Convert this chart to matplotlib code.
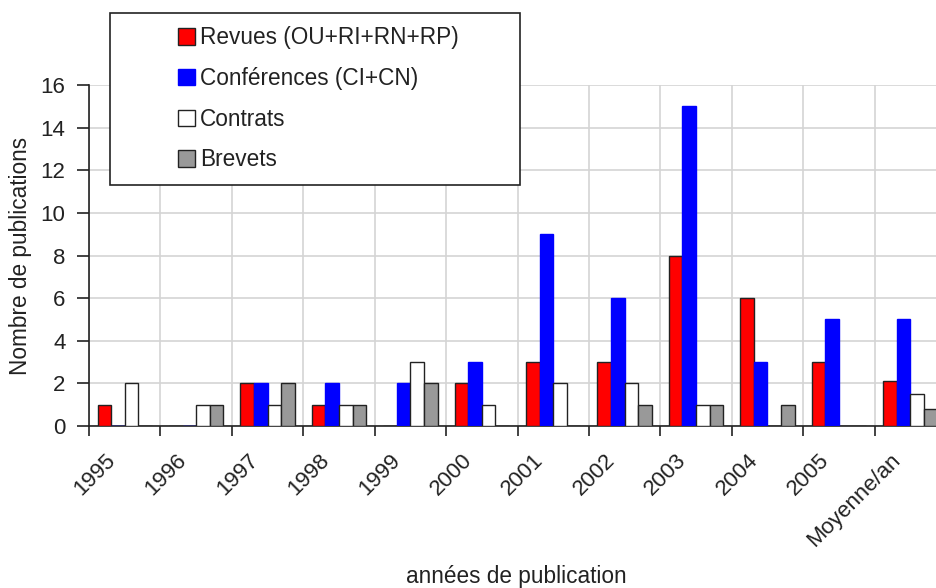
import matplotlib.pyplot as plt
import matplotlib.transforms as mtransforms
from matplotlib.patches import Rectangle, Patch
import numpy as np

plt.rcParams['font.family'] = ['Liberation Sans', 'DejaVu Sans']

annees = ['1995', '1996', '1997', '1998', '1999', '2000', '2001', '2002',
          '2003', '2004', '2005', 'Moyenne/an']
revues = [1, 0, 2, 1, 0, 2, 3, 3, 8, 6, 3, 2.1]
conferences = [0, 0, 2, 2, 2, 3, 9, 6, 15, 3, 5, 5]
contrats = [2, 1, 1, 1, 3, 1, 2, 2, 1, 0, 0, 1.5]
brevets = [0, 1, 2, 1, 2, 0, 0, 1, 1, 1, 0, 0.8]

series = [
    ('Revues (OU+RI+RN+RP)', revues, '#ff0000', '#222222'),
    ('Conférences (CI+CN)', conferences, '#0000ff', '#0000ff'),
    ('Contrats', contrats, '#ffffff', '#222222'),
    ('Brevets', brevets, '#999999', '#222222'),
]

W, H = 936, 588
fig = plt.figure(figsize=(W / 100, H / 100), dpi=100)
ax = fig.add_axes([89 / W, (H - 426) / H, 857 / W, (426 - 85) / H])

x = np.arange(len(annees))
larg = 0.19
for k, (nom, vals, coul, bord) in enumerate(series):
    ax.bar(x + (k - 1.5) * larg, vals, larg, color=coul, edgecolor=bord,
           linewidth=1.0, zorder=3)

ax.set_xlim(-0.5, len(annees) - 0.5)
ax.set_ylim(0, 16)
ax.set_yticks(range(0, 17, 2))
ax.set_xticks(np.arange(len(annees)) - 0.5)
ax.set_xticklabels([])

# étiquettes inclinées, décalées par rapport aux graduations
decal = mtransforms.ScaledTranslation(0.23, -0.31, fig.dpi_scale_trans)
trans = ax.get_xaxis_transform() + decal
for i, a in enumerate(annees):
    ax.text(i - 0.5, 0, a, transform=trans, rotation=45, ha='right',
            va='center', rotation_mode='anchor', fontsize=16,
            color='#222222', clip_on=False)

ax.grid(True, color='#d4d4d4', linewidth=1.2, zorder=0)
ax.set_axisbelow(True)
for s in ['top', 'right']:
    ax.spines[s].set_visible(False)
for s in ['left', 'bottom']:
    ax.spines[s].set_color('#222222')
    ax.spines[s].set_linewidth(1.2)
ax.tick_params(axis='both', colors='#222222', labelsize=16, length=7,
               width=1.2, direction='out')
ax.tick_params(axis='y', pad=8, length=9)
ax.yaxis.label.set_color('#222222')

ax.set_ylabel('Nombre de publications', fontsize=16.3, labelpad=6)
fig.text(516 / W, 1 - 577 / H, 'années de publication', fontsize=16.3,
         color='#222222', ha='center', va='center')

# cadre de la légende
fig.patches.append(Rectangle((110 / W, 1 - 185 / H), 410 / W, 172 / H,
                             transform=fig.transFigure, facecolor='white',
                             edgecolor='#222222', linewidth=1.2, zorder=5))
poignees = [Patch(facecolor=c, edgecolor=b, linewidth=1.0)
            for _, _, c, b in series]
leg = fig.legend(poignees, [s[0] for s in series], loc='upper left',
                 bbox_to_anchor=(158 / W, 1 - 6 / H), frameon=False,
                 fontsize=16.3, labelspacing=0.78, handlelength=0.75,
                 handleheight=0.75, handletextpad=0.22)
leg.set_zorder(6)
for t in leg.get_texts():
    t.set_color('#222222')

fig.savefig('out.png', dpi=100)
